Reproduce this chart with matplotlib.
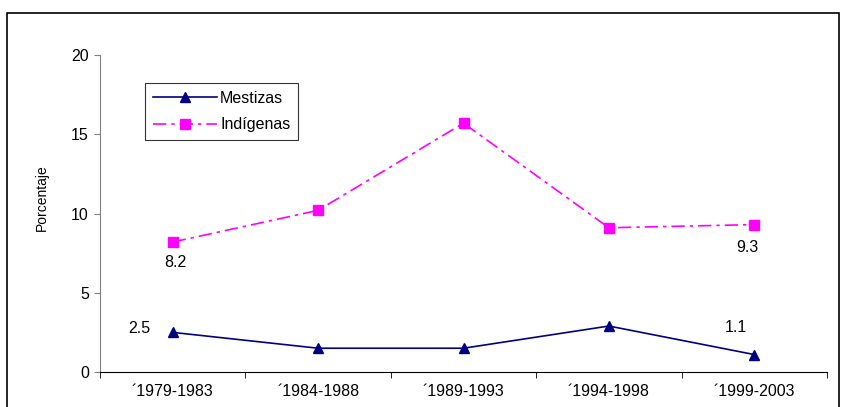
import matplotlib
matplotlib.use("Agg")
import matplotlib.pyplot as plt
from matplotlib.patches import Rectangle

categories = ["´1979-1983", "´1984-1988", "´1989-1993", "´1994-1998", "´1999-2003"]
mestizas = [2.5, 1.5, 1.5, 2.9, 1.1]
indigenas = [8.2, 10.2, 15.7, 9.1, 9.3]

plt.rcParams['font.family'] = ['Liberation Sans', 'DejaVu Sans']
fs = 11.5
fig = plt.figure(figsize=(8.41, 4.07), dpi=100)
fig.patches.append(Rectangle((7/841, -0.1), 832/841, 1.1 - 13/407, transform=fig.transFigure,
                             fill=False, edgecolor='black', linewidth=1.2))
ax = fig.add_axes([100/841, 1 - 372/407, 727/841, 317/407])
x = list(range(len(categories)))
ax.plot(x, mestizas, color='#000080', marker='^', markersize=7.5, linewidth=1.2, label='Mestizas')
ax.plot(x, indigenas, color='#FF00FF', marker='s', markersize=6.5, linewidth=1.2,
        linestyle=(0, (8, 3, 2, 3)), label='Indígenas')
ax.set_xlim(-0.5, len(categories) - 0.5)
ax.set_ylim(0, 20)
ax.set_yticks([0, 5, 10, 15, 20])
ax.set_xticks(x)
ax.set_xticklabels(categories, fontsize=fs)
ax.set_xticks([i - 0.5 for i in range(len(categories) + 1)], minor=True)
ax.tick_params(axis='x', which='major', length=0, pad=9)
ax.tick_params(axis='x', which='minor', length=4, direction='out', color='black')
ax.tick_params(axis='y', length=4, direction='out', labelsize=fs, color='gray', pad=4)
for s in ['top', 'right']:
    ax.spines[s].set_visible(False)
ax.spines['left'].set_color('gray')
ax.spines['bottom'].set_color('black')
ax.set_ylabel('Porcentaje', fontsize=10)
ax.yaxis.set_label_coords((49 - 100) / 727, (372 - 198) / 317)

px = 72 / 100
ax.annotate('8.2', (0, indigenas[0]), xytext=(3 * px, -20 * px), textcoords='offset points',
            ha='center', va='center', fontsize=fs)
ax.annotate('9.3', (4, indigenas[4]), xytext=(-7 * px, -23 * px), textcoords='offset points',
            ha='center', va='center', fontsize=fs)
ax.annotate('2.5', (0, mestizas[0]), xytext=(-33 * px, 4 * px), textcoords='offset points',
            ha='center', va='center', fontsize=fs)
ax.annotate('1.1', (4, mestizas[4]), xytext=(-18 * px, 27 * px), textcoords='offset points',
            ha='center', va='center', fontsize=fs)

leg = ax.legend(loc='upper left', bbox_to_anchor=(45 / 727, (372 - 83) / 317), borderaxespad=0,
                fontsize=fs, frameon=True, fancybox=False, edgecolor='black', handlelength=4.0,
                handletextpad=0.2, borderpad=0.5, labelspacing=0.7)
leg.get_frame().set_linewidth(0.8)

fig.savefig('out.png', dpi=100)
